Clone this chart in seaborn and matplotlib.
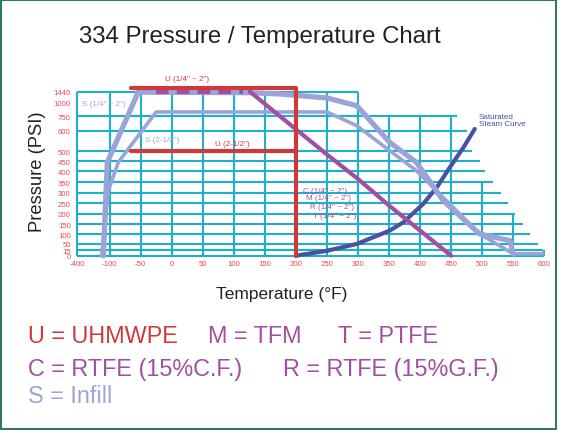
"""
334 Pressure / Temperature Chart - seat ratings vs temperature.
"""

import numpy as np
import matplotlib
matplotlib.use("Agg")
import matplotlib.pyplot as plt
import seaborn as sns
import pandas as pd
from matplotlib.patches import Rectangle


# 1. Data

# U = UHMWPE
u_small_temp = [-65, 200, 200]
u_small_psi = [1600, 1600, 0]
u_large_temp = [-65, 200]
u_large_psi = [500, 500]

# C / M / R / T (1/4" ~ 2")
cmrt_flat_temp = [-25, 115]
cmrt_flat_psi = [1440, 1440]
cmrt_temp = [126, 200, 250, 300, 350, 400, 450]
cmrt_psi = [1440, 615, 485, 365, 240, 117, 0]

# S = Infill
s_small_temp = [-158, -121, -54, 126, 174, 250, 298, 351, 394, 437, 496, 545, 550]
s_small_psi = [0, 446, 1420, 1400, 1345, 1180, 940, 544, 446, 264, 100, 66, 5]
s_large_temp = [-173, -112, -86, -25, 250, 298, 351, 394, 496, 550, 598]
s_large_psi = [0, 310, 446, 830, 830, 653, 504, 404, 100, 5, 5]

# saturated steam
steam_temp = [200, 250, 298, 351, 373, 405, 427, 448, 470, 488]
steam_psi = [0, 13, 49, 117, 158, 248, 326, 421, 520, 618]

# axis ticks
temp_ticks = [-400, -100, -50, 0, 50, 100, 150, 200, 250, 300, 350, 400, 450, 500, 550, 600]
psi_ticks = [0, 15, 50, 100, 150, 200, 250, 300, 350, 400, 450, 500, 600, 750, 1000, 1440]

# grid: horizontal lines (pressure, right end temp) and vertical lines (temp, top pressure)
hgrid_psi = [1440, 750, 600, 500, 450, 400, 350, 300, 250, 200, 150, 100, 50, 15, 0]
hgrid_end = [300, 460, 475, 484, 496, 505, 518, 531, 542, 553, 566, 577, 590, 598, 600]
vgrid_temp = [-400, -100, -50, 0, 50, 100, 150, 200, 250, 300, 350, 400, 450, 500, 550, 600]
vgrid_top = [1440, 1440, 1440, 1440, 1440, 1440, 1440, 1440, 1440, 1440, 750, 750, 750, 350, 200, 15]


# 2. Non-linear axes of the printed chart

PSI_KNOTS = [-500, 0, 15, 50, 100, 150, 200, 250, 300, 350, 400, 450, 500,
             600, 750, 1000, 1440, 3000]
PSI_POS = [-190, 0, 5.7, 11.9, 21.7, 31.7, 42.1, 52.2, 62.9, 73.5, 84.2, 94.2,
           104.2, 125, 139.2, 153.4, 164, 201.6]
TEMP_KNOTS = [-1000, -400, -100, 1000]
TEMP_POS = [-257.5, -152.5, -100, 1000]


def psi_fwd(v):
    return np.interp(v, PSI_KNOTS, PSI_POS)


def psi_inv(v):
    return np.interp(v, PSI_POS, PSI_KNOTS)


def temp_fwd(v):
    return np.interp(v, TEMP_KNOTS, TEMP_POS)


def temp_inv(v):
    return np.interp(v, TEMP_POS, TEMP_KNOTS)


# 3. Style

sns.set_theme(style="white")
plt.rcParams["font.family"] = ["Liberation Sans", "DejaVu Sans"]

RED = "#D0393A"
PURPLE = "#A24FA3"
LAVENDER = "#9AA4D8"
STEAM = "#4A51A3"
GRID = "#1EB0CA"
TICK = "#EC4A50"

fig = plt.figure(figsize=(5.61, 4.31), dpi=100)
ax = fig.add_axes([0.13725, 0.4044, 0.8385, 0.399])
ax.set_xscale("function", functions=(temp_fwd, temp_inv))
ax.set_yscale("function", functions=(psi_fwd, psi_inv))
ax.set_xlim(-400, 605)
ax.set_ylim(0, 1770)

# grid
ax.hlines(hgrid_psi, -400, hgrid_end, color=GRID, lw=1.5, zorder=1, clip_on=False)
ax.vlines(vgrid_temp, 0, vgrid_top, color=GRID, lw=1.5, zorder=1, clip_on=False)


def draw(temp, psi, color, lw, z, **kw):
    df = pd.DataFrame({"temp": temp, "psi": psi})
    sns.lineplot(data=df, x="temp", y="psi", sort=False, estimator=None,
                 color=color, lw=lw, ax=ax, zorder=z, clip_on=False, **kw)


draw(steam_temp, steam_psi, STEAM, 3, 2)
draw(s_small_temp, s_small_psi, LAVENDER, 3.8, 3)
draw(s_large_temp, s_large_psi, LAVENDER, 2.6, 3)
draw(cmrt_flat_temp, cmrt_flat_psi, PURPLE, 3, 4, dashes=(3, 2))
draw(cmrt_temp, cmrt_psi, PURPLE, 3, 4)
draw(u_small_temp, u_small_psi, RED, 3, 5)
draw(u_large_temp, u_large_psi, RED, 3, 5)

# curve labels
lab = dict(fontsize=5.8, va="center")
ax.text(25, 2000, "U (1/4\" ~ 2\")", color=RED, ha="center", **lab)
ax.text(97, 539, "U (2-1/2\")", color=RED, ha="center", **lab)
ax.text(-357, 970, "S (1/4\" ~ 2\")", color=LAVENDER, ha="left", **lab)
ax.text(-43, 560, "S (2-1/2\")", color=LAVENDER, ha="left", **lab)
ax.text(211, 313, "C (1/4\" ~ 2\")", color=PURPLE, ha="left", **lab)
ax.text(216, 276, "M (1/4\" ~ 2\")", color=PURPLE, ha="left", **lab)
ax.text(222, 236, "R (1/4\" ~ 2\")", color=PURPLE, ha="left", **lab)
ax.text(227, 190, "T (1/4\" ~ 2\")", color=PURPLE, ha="left", **lab)
ax.text(495, 715, "Saturated\nSteam Curve", color=STEAM, ha="left",
        linespacing=1.05, **lab)

ax.set_xticks(temp_ticks)
ax.set_xticklabels([str(t) for t in temp_ticks])
ax.set_yticks(psi_ticks)
ax.set_yticklabels([str(p) for p in psi_ticks])
ax.minorticks_off()
ax.tick_params(axis="both", length=0, labelsize=5.6, labelcolor=TICK)
ax.tick_params(axis="y", pad=4.5)
ax.tick_params(axis="x", pad=3)
ax.set_xlabel("")
ax.set_ylabel("")
for s in ax.spines.values():
    s.set_visible(False)
ax.patch.set_alpha(0)

# titles and axis names
W, H = 561, 431
fig.text(260 / W, 1 - 36.7 / H, "334 Pressure / Temperature Chart",
         ha="center", va="center", fontsize=17.3, color="#222222")
fig.text(38 / W, 1 - 171.7 / H, "Pressure (PSI)", rotation=90,
         ha="center", va="center", fontsize=13.2, color="#222222")
fig.text(281.7 / W, 1 - 295 / H, "Temperature (°F)",
         ha="center", va="center", fontsize=12.5, color="#222222")

# material key
key = dict(fontsize=16.8, va="center", ha="left")
fig.text(28.3 / W, 1 - 336.7 / H, "U = UHMWPE", color=RED, **key)
fig.text(208.3 / W, 1 - 336.7 / H, "M = TFM", color=PURPLE, **key)
fig.text(338.3 / W, 1 - 336.7 / H, "T = PTFE", color=PURPLE, **key)
fig.text(28.3 / W, 1 - 370 / H, "C = RTFE (15%C.F.)", color=PURPLE, **key)
fig.text(283.3 / W, 1 - 370 / H, "R = RTFE (15%G.F.)", color=PURPLE, **key)
fig.text(28.3 / W, 1 - 396.7 / H, "S = Infill", color=LAVENDER, **key)

# frame
fig.patches.append(Rectangle((1 / W, 1 / H), 555 / W, 429 / H, transform=fig.transFigure,
                             fill=False, edgecolor="#2F7A5C", lw=1.5))

fig.savefig("out.png", dpi=100)
